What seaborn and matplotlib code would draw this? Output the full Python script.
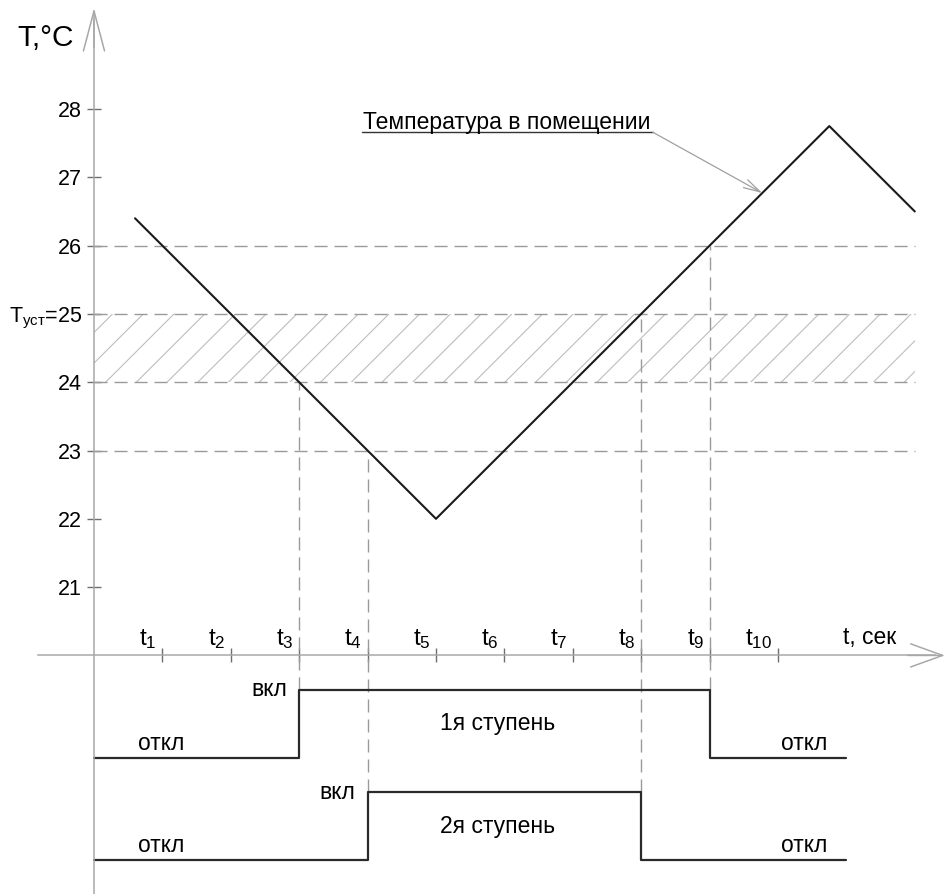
import numpy as np
import pandas as pd
import matplotlib
matplotlib.use("Agg")
import matplotlib.pyplot as plt
import seaborn as sns
from matplotlib import font_manager as fm
from matplotlib.collections import LineCollection
from matplotlib.patches import Rectangle, ArrowStyle

# ---------------- data ----------------
temp_t = [0.6, 5.0, 10.75, 12.0]          # time points of room temperature curve
temp_T = [26.4, 22.0, 27.75, 26.5]        # room temperature, °C

y_ticks = [21, 22, 23, 24, 25, 26, 27, 28]
y_ticklabels = ["21", "22", "23", "24", "T$_\\mathregular{уст}$=25", "26", "27", "28"]

t_ticks = [1, 2, 3, 4, 5, 6, 7, 8, 9, 10]
t_labels = ["t$_\\mathregular{%d}$" % k for k in t_ticks]

ref_levels = [23, 24, 25, 26]             # dashed threshold lines
band_low, band_high = 24, 25              # hatched dead band

stage1_t = [0, 3, 9, 11]
stage1_state = [0, 1, 0, 0]
stage1_off, stage1_on = 18.5, 19.5

stage2_t = [0, 4, 8, 11]
stage2_state = [0, 1, 0, 0]
stage2_off, stage2_on = 17.0, 18.0

# switching instants: time, threshold temperature, level of step line
switch_t = [3, 4, 8, 9]
switch_T = [24, 23, 25, 26]
switch_low = [stage1_on, stage2_on, stage2_on, stage1_on]

# ---------------- fonts ----------------
names = {f.name for f in fm.fontManager.ttflist}
REG = "Liberation Sans" if "Liberation Sans" in names else "DejaVu Sans"
NARROW = "Liberation Sans Narrow" if "Liberation Sans Narrow" in names else REG
TICK_FS = 17 if NARROW != REG else 15.5
TITLE_FS = 24 if NARROW != REG else 21.5

sns.set_theme(style="white")
plt.rcParams["font.family"] = [REG, "DejaVu Sans"]
plt.rcParams["mathtext.fontset"] = "custom"
plt.rcParams["mathtext.rm"] = REG
plt.rcParams["mathtext.it"] = REG + ":italic"
plt.rcParams["mathtext.bf"] = REG + ":bold"

AX_COL = "#a8a8a8"
DASH_COL = "#9a9a9a"
DASH = (0, (9.4, 5.0))

fig = plt.figure(figsize=(9.46, 8.94), dpi=100)
ax = fig.add_axes([0, 0, 1, 1])
ax.set_xlim(-1.374, 12.456)
ax.set_ylim(16.507, 29.596)

# hatched band
t_end = 12.0
rect = Rectangle((0, band_low), t_end, band_high - band_low, facecolor="none",
                 edgecolor="none")
ax.add_patch(rect)
offsets = np.arange(0.17 - 0.449 * 3, t_end + 0.5, 0.449)
segs = [[(c, band_low), (c + (band_high - band_low), band_high)] for c in offsets]
lc = LineCollection(segs, colors="#bdbdbd", linewidths=0.8)
ax.add_collection(lc)
lc.set_clip_path(rect)

# dashed reference lines
ax.hlines(ref_levels, 0, t_end, colors=DASH_COL, linestyles=DASH, linewidth=1.0)
ax.vlines(switch_t, switch_low, switch_T, colors=DASH_COL, linestyles=DASH, linewidth=1.0)

# temperature curve
df_temp = pd.DataFrame({"t": temp_t, "T": temp_T})
sns.lineplot(data=df_temp, x="t", y="T", ax=ax, color="#1a1a1a", linewidth=1.5,
             sort=False, estimator=None)

# stage step lines
for st_t, st_s, off, on in [(stage1_t, stage1_state, stage1_off, stage1_on),
                            (stage2_t, stage2_state, stage2_off, stage2_on)]:
    lvl = np.where(np.array(st_s) == 1, on, off)
    sns.lineplot(x=st_t, y=lvl, ax=ax, color="#2a2a2a", linewidth=1.6,
                 drawstyle="steps-post", sort=False, estimator=None)

# axes as spines with arrows
for s in ["top", "right"]:
    ax.spines[s].set_visible(False)
ax.spines["left"].set_position(("data", 0))
ax.spines["bottom"].set_position(("data", 20))
ax.spines["left"].set_bounds(16.507, 29.3)
ax.spines["bottom"].set_bounds(-0.82, 12.3)
for s in ["left", "bottom"]:
    ax.spines[s].set_color(AX_COL)
    ax.spines[s].set_linewidth(1.1)

ax.annotate("", xy=(0, 29.48), xytext=(0, 28.9),
            arrowprops=dict(arrowstyle=ArrowStyle("->", head_length=28.8, head_width=7.6),
                            mutation_scale=1, color=AX_COL, lw=1.1, shrinkA=0, shrinkB=0))
ax.annotate("", xy=(12.44, 20), xytext=(11.9, 20),
            arrowprops=dict(arrowstyle=ArrowStyle("->", head_length=23.0, head_width=8.3),
                            mutation_scale=1, color=AX_COL, lw=1.1, shrinkA=0, shrinkB=0))

ax.set_yticks(y_ticks, labels=y_ticklabels, fontfamily=[NARROW, "DejaVu Sans"],
              fontsize=TICK_FS, color="black")
ax.set_xticks(t_ticks, labels=[""] * len(t_ticks))
ax.tick_params(axis="both", direction="inout", length=10, width=1.0, color="#707070",
               left=True, bottom=True)
ax.tick_params(axis="y", pad=3.6)
ax.grid(False)
ax.set_xlabel("")
ax.set_ylabel("")

# time labels
for k, lab in zip(t_ticks, t_labels):
    ax.text(k - 0.08, 20.06, lab, ha="right", va="bottom", fontsize=17.5, color="black")
ax.text(10.95, 20.16, "t, сек", ha="left", va="baseline", fontsize=16.5, color="black")
ax.text(-1.126, 28.92, "T,°C", ha="left", va="baseline", fontsize=TITLE_FS,
        fontfamily=[NARROW, "DejaVu Sans"], color="black")

# annotation of the temperature curve
ul_T = 27.66
ax.text(3.93, 27.71, "Температура в помещении", ha="left", va="baseline",
        fontsize=16.5, color="black")
ax.plot([3.92, 8.17], [ul_T, ul_T], color="#333333", linewidth=1.0)
ax.annotate("", xy=(9.77, 26.77), xytext=(8.17, ul_T),
            arrowprops=dict(arrowstyle=ArrowStyle("->", head_length=12, head_width=3.2),
                            mutation_scale=1, color="#a0a0a0", lw=0.9, shrinkA=0, shrinkB=0))

# stage labels
fs = 16.5
ax.text(2.82, stage1_on, "вкл", ha="right", va="center", fontsize=fs, color="black")
ax.text(3.82, stage2_on, "вкл", ha="right", va="center", fontsize=fs, color="black")
for off in [stage1_off, stage2_off]:
    ax.text(0.64, off + 0.21, "откл", ha="left", va="center", fontsize=fs, color="black")
    ax.text(10.04, off + 0.21, "откл", ha="left", va="center", fontsize=fs, color="black")
ax.text(5.9, (stage1_off + stage1_on) / 2, "1я ступень", ha="center", va="center",
        fontsize=fs, color="black")
ax.text(5.9, (stage2_off + stage2_on) / 2, "2я ступень", ha="center", va="center",
        fontsize=fs, color="black")

fig.savefig("out.png", dpi=100, facecolor="white")
